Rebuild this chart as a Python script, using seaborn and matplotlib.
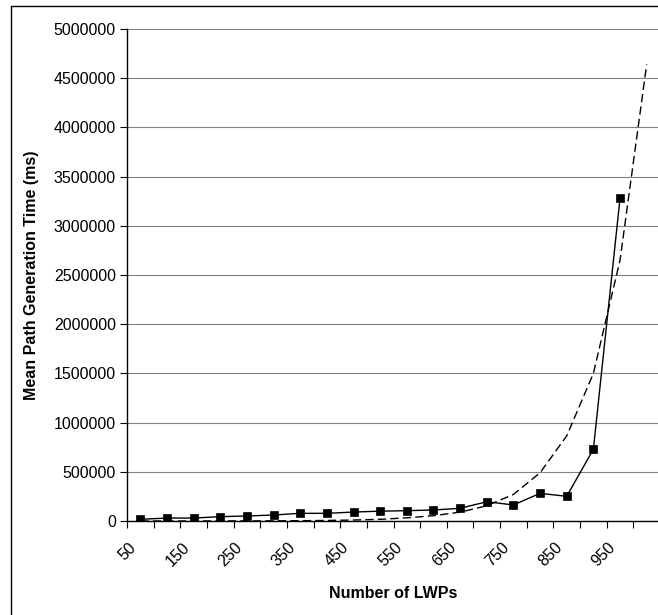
import matplotlib
matplotlib.use("Agg")
import matplotlib.pyplot as plt
from matplotlib.lines import Line2D
from matplotlib.ticker import FixedLocator
from matplotlib.transforms import ScaledTranslation
import numpy as np
import pandas as pd
import seaborn as sns

# ---- data ----
lwps_all = [50, 100, 150, 200, 250, 300, 350, 400, 450, 500,
            550, 600, 650, 700, 750, 800, 850, 900, 950, 1000]
lwps_measured = lwps_all[:19]
mean_time = [17000, 30000, 30000, 44000, 51000, 61000, 78000, 78000, 91000, 100000,
             105000, 112000, 129000, 196000, 163000, 281000, 251000, 729000, 3280000]
trend_time = [100, 200, 350, 600, 1000, 1800, 3200, 5500, 10000, 17000,
              32000, 54000, 90000, 155000, 270000, 490000, 865000, 1500000, 2650000, 4640000]
x_tick_labels = ["50", "150", "250", "350", "450", "550", "650", "750", "850", "950"]
y_ticks = [0, 500000, 1000000, 1500000, 2000000, 2500000, 3000000, 3500000, 4000000, 4500000, 5000000]

df_meas = pd.DataFrame({"lwps": lwps_measured, "time": mean_time})
df_trend = pd.DataFrame({"lwps": lwps_all, "time": trend_time})

sns.set_style("white")
plt.rcParams["font.family"] = ["Liberation Sans", "DejaVu Sans"]
plt.rcParams["text.color"] = "black"
plt.rcParams["axes.labelcolor"] = "black"
plt.rcParams["xtick.color"] = "black"
plt.rcParams["ytick.color"] = "black"

W, H = 658, 615
fig = plt.figure(figsize=(W / 100, H / 100), dpi=100)
left, top, bottom, right = 127, 29, 521, 660
ax = fig.add_axes([left / W, 1 - bottom / H, (right - left) / W, (bottom - top) / H])

sns.lineplot(data=df_trend, x="lwps", y="time", ax=ax, color="black",
             linewidth=1.0, linestyle="--", legend=False)
ax.lines[-1].set_dashes([6, 3])
sns.lineplot(data=df_meas, x="lwps", y="time", ax=ax, color="black",
             linewidth=1.0, marker="s", markersize=6, markeredgecolor="black",
             markeredgewidth=0.5, legend=False)

ax.set_xlim(25, 1025)
ax.set_ylim(0, 5000000)

# y axis
ax.set_yticks(y_ticks)
ax.set_yticklabels([str(v) for v in y_ticks])
ax.yaxis.grid(True, color="#808080", linewidth=0.8)
ax.xaxis.grid(False)
ax.set_axisbelow(True)

# x axis: labels at every other category, tick marks at category boundaries
ax.set_xticks([int(s) for s in x_tick_labels])
ax.set_xticklabels(x_tick_labels, rotation=45, ha="right", va="top", rotation_mode="anchor")
ax.xaxis.set_minor_locator(FixedLocator(np.arange(25, 1026, 50)))
ax.tick_params(axis="x", which="major", length=0, pad=9, labelsize=11.5, labelcolor="black")
ax.tick_params(axis="x", which="minor", length=5, width=0.8, direction="out", color="black", bottom=True)
ax.tick_params(axis="y", which="major", length=5, width=0.8, direction="out", color="black",
               pad=3, labelsize=11.5, left=True, labelcolor="black")
offset = ScaledTranslation(-12 / 100, -6 / 100, fig.dpi_scale_trans)
for lbl in ax.get_xticklabels():
    lbl.set_transform(lbl.get_transform() + offset)

for s in ["top", "right"]:
    ax.spines[s].set_visible(False)
for s in ["left", "bottom"]:
    ax.spines[s].set_color("black")
    ax.spines[s].set_linewidth(1.0)

ax.set_xlabel("Number of LWPs", fontsize=11.5, fontweight="bold", color="black")
ax.set_ylabel("Mean Path Generation Time (ms)", fontsize=11.5, fontweight="bold", color="black")
ax.xaxis.set_label_coords(0.5, (bottom - 586) / (bottom - top))
ax.yaxis.set_label_coords((39 - left) / (right - left), 0.5)

# outer chart border (left and top edges visible in crop)
fig.add_artist(Line2D([10.5 / W, 10.5 / W], [0, 1 - 5.5 / H], transform=fig.transFigure,
                      color="black", linewidth=1.0))
fig.add_artist(Line2D([10.5 / W, 1], [1 - 5.5 / H, 1 - 5.5 / H], transform=fig.transFigure,
                      color="black", linewidth=1.0))

fig.savefig("out.png", dpi=100)
